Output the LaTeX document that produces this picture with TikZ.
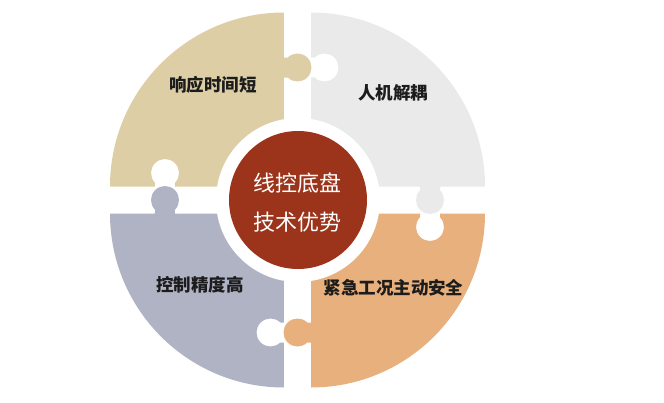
\documentclass[tikz,border=0pt]{standalone}
\usepackage{fontspec}
\newfontfamily\cjk{Noto Sans CJK SC}
\definecolor{tanc}{RGB}{221,206,166}
\definecolor{grayc}{RGB}{234,234,234}
\definecolor{bluec}{RGB}{175,179,196}
\definecolor{orangec}{RGB}{232,176,124}
\definecolor{redc}{RGB}{155,52,26}
\definecolor{labelc}{RGB}{28,28,28}
\tikzset{
  piecepath/.style={insert path={(0,0) -- (0,109) -- (3.7,109)
     arc[start angle=-134.42, end angle=134.42, radius=14] -- (0,129) -- (0,174)
     arc[start angle=90, end angle=180, radius=174] -- (-129,0) -- (-129,3.7)
     arc[start angle=224.42, end angle=-44.42, radius=14] -- (-109,0) -- cycle}},
  label text/.style={text=labelc, font=\cjk\bfseries\fontsize{17.5}{20}\selectfont, inner sep=0pt},
  core text/.style={text=white, font=\cjk\fontsize{22}{26}\selectfont, inner sep=0pt}
}
\begin{document}
\begin{tikzpicture}[x=1pt,y=1pt]
\useasboundingbox (-297.5,-202) rectangle (366.5,200);
% puzzle pieces
\fill[tanc, shift={(-13.5,13.5)}, rotate=0, piecepath];
\fill[bluec, shift={(-13.5,-13.5)}, rotate=90, piecepath];
\fill[orangec, shift={(13.5,-13.5)}, rotate=180, piecepath];
\fill[grayc, shift={(13.5,13.5)}, rotate=270, piecepath];
% centre
\node[circle, fill=white, minimum size=164pt, inner sep=0pt] (ring) at (0.5,0) {};
\node[circle, fill=redc, minimum size=138pt, inner sep=0pt] (core) at (0.5,0) {};
\node[core text] (core1) at (0.5,16.5) {线控底盘};
\node[core text] (core2) at (0.5,-22) {技术优势};
% labels
\node[label text] (tl) at (-84.5,115) {响应时间短};
\node[label text] (tr) at (95.5,107.5) {人机解耦};
\node[label text] (bl) at (-97.5,-85) {控制精度高};
\node[label text] (br) at (96,-88.3) {紧急工况主动安全};
\end{tikzpicture}
\end{document}
